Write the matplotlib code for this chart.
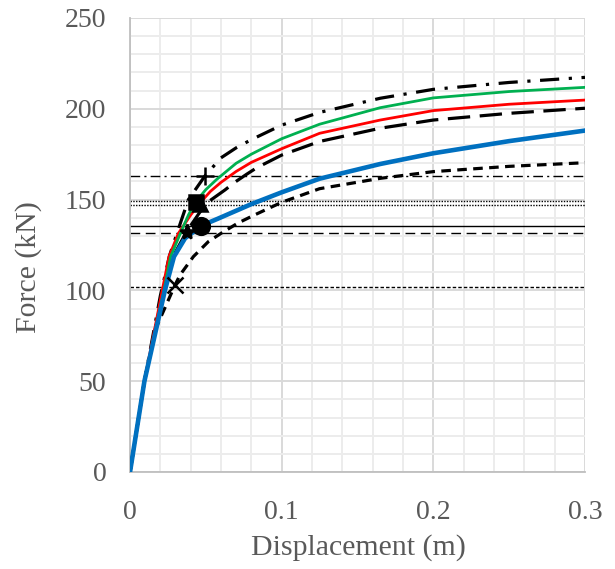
import matplotlib
matplotlib.use("Agg")
import matplotlib.pyplot as plt
from matplotlib.ticker import MultipleLocator

plt.rcParams["font.family"] = ["Liberation Serif", "DejaVu Serif"]

# ----------------------------
# Force-displacement curves
# ----------------------------
disp_dashdot = [0, 0.0095, 0.02, 0.026, 0.0336, 0.0385, 0.0494, 0.06, 0.07, 0.08, 0.1, 0.125, 0.165, 0.2, 0.25, 0.3]
force_dashdot = [0, 50, 97, 119, 138, 150, 163, 173, 178.5, 183, 191, 198, 205.8, 210.7, 214.5, 217.3]

disp_green = [0, 0.0095, 0.0224, 0.0268, 0.033, 0.0385, 0.0433, 0.05, 0.057, 0.07, 0.08, 0.1, 0.125, 0.165, 0.2, 0.25, 0.3]
force_green = [0, 50, 100, 118.6, 131, 141.5, 148.8, 155.5, 161, 170, 175, 183.5, 191.5, 200.6, 206, 209.5, 211.8]

disp_red = [0, 0.0095, 0.0215, 0.0257, 0.0319, 0.04, 0.046, 0.053, 0.06, 0.07, 0.08, 0.1, 0.125, 0.165, 0.2, 0.25, 0.3]
force_red = [0, 50, 101, 118.6, 131.4, 141.5, 148, 154.5, 159.5, 165.5, 170.5, 178, 186.5, 193.8, 199, 202.5, 204.8]

disp_longdash = [0, 0.0095, 0.022, 0.028, 0.0374, 0.046, 0.052, 0.0626, 0.069, 0.077, 0.0835, 0.1, 0.125, 0.165, 0.2, 0.25, 0.3]
force_longdash = [0, 50, 100, 118, 132.5, 143, 149, 155.3, 159.5, 164, 167.5, 174.5, 182, 189.3, 193.8, 197.5, 200.3]

disp_blue = [0, 0.0095, 0.023, 0.029, 0.0363, 0.047, 0.058, 0.069, 0.08, 0.1, 0.125, 0.165, 0.2, 0.25, 0.3]
force_blue = [0, 50, 100, 118.6, 128.7, 135.6, 139.5, 143.5, 147.5, 154, 161.5, 169.6, 175.5, 182.2, 188]

disp_shortdash = [0, 0.0095, 0.0175, 0.0297, 0.033, 0.0418, 0.0516, 0.06, 0.071, 0.082, 0.1, 0.125, 0.165, 0.2, 0.25, 0.3]
force_shortdash = [0, 50, 80, 103, 108.5, 118.6, 126.8, 131.4, 137, 141.5, 148.5, 156, 161.7, 165.4, 168.3, 170.3]

# yield points (markers) and their horizontal reference levels
yield_disp = [0.0494, 0.0433, 0.046, 0.047, 0.0374, 0.0297]
yield_force = [163, 148.8, 147.5, 135.6, 132, 103]
level_force = [163, 149.4, 147, 135.6, 131.8, 102]

fig = plt.figure(figsize=(6.15, 5.69), dpi=100)
ax = fig.add_axes([0.2114, 0.1705, 0.7398, 0.7979])

# grid like the Excel original
ax.xaxis.set_major_locator(MultipleLocator(0.1))
ax.xaxis.set_minor_locator(MultipleLocator(0.02))
ax.yaxis.set_major_locator(MultipleLocator(50))
ax.yaxis.set_minor_locator(MultipleLocator(10))
ax.grid(True, which="major", color="#d9d9d9", linewidth=1.4)
ax.grid(True, which="minor", color="#ececec", linewidth=1.4)
ax.set_axisbelow(True)

# horizontal reference lines
line_styles = [(0, (7, 3, 1.5, 3)), (0, (1, 1)), (0, (1, 1)), "-", (0, (7, 4)), (0, (2.5, 1.5))]
for lvl, ls in zip(level_force, line_styles):
    ax.axhline(lvl, color="black", linewidth=1.0, linestyle=ls, zorder=2)

# curves
ax.plot(disp_shortdash, force_shortdash, color="black", linewidth=2.3, linestyle=(0, (3, 2)), zorder=3)
ax.plot(disp_longdash, force_longdash, color="black", linewidth=2.3, linestyle=(0, (7, 3)), zorder=3)
ax.plot(disp_dashdot, force_dashdot, color="black", linewidth=2.3, linestyle=(0, (6, 3, 1, 3)), zorder=3)
ax.plot(disp_red, force_red, color="#ff0000", linewidth=2.0, zorder=4)
ax.plot(disp_green, force_green, color="#00b050", linewidth=2.0, zorder=4)
ax.plot(disp_blue, force_blue, color="#0070c0", linewidth=3.3, zorder=5)

# yield markers
marker_styles = ["+", "s", "^", "o", "*", "x"]
marker_sizes = [13, 10, 10, 12, 11, 11]
for x, y, m, s in zip(yield_disp, yield_force, marker_styles, marker_sizes):
    ax.plot(x, y, marker=m, markersize=s, color="black", markeredgewidth=1.8, linestyle="none", zorder=6)

ax.set_xlim(0, 0.3)
ax.set_ylim(0, 250)
ax.set_xticks([0, 0.1, 0.2, 0.3])
ax.set_xticklabels(["0", "0.1", "0.2", "0.3"])

for side in ["top", "right"]:
    ax.spines[side].set_visible(False)
ax.spines["left"].set_color("#bfbfbf")
ax.spines["bottom"].set_color("#bfbfbf")
ax.spines["left"].set_linewidth(1.3)
ax.spines["bottom"].set_linewidth(1.3)

ax.tick_params(which="both", length=0, labelsize=20, colors="#595959")
ax.tick_params(axis="y", pad=17)
ax.tick_params(axis="x", pad=20)

# axis titles placed like the original (y title sits below the axis middle)
fig.text(358 / 615, 1 - 548 / 569, "Displacement (m)", fontsize=21.5, color="#595959",
         ha="center", va="center")
fig.text(29 / 615, 1 - 267.5 / 569, "Force (kN)", fontsize=21.5, color="#595959",
         ha="center", va="center", rotation=90)

fig.savefig("out.png", dpi=100)
